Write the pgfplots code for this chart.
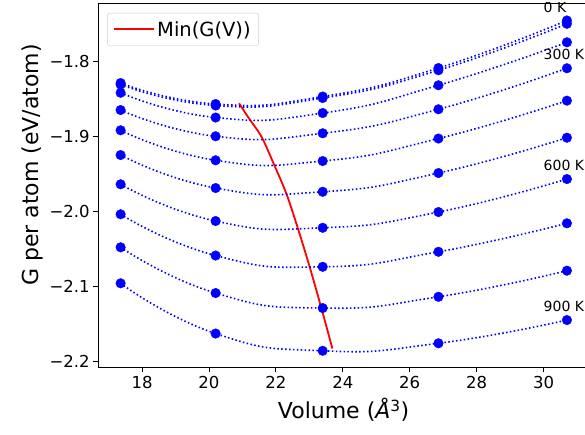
\documentclass[border=0pt]{standalone}
\usepackage{fontspec}
\setmainfont{DejaVu Sans}
\usepackage{pgfplots}
\pgfplotsset{compat=1.18}
\usepackage{pgfplotstable}

\pgfplotstableread{
V      t0      t100    t200    t300    t400    t500    t600    t700    t800    t900
17.36  -1.829  -1.831  -1.842  -1.865  -1.892  -1.925  -1.964  -2.004  -2.048  -2.096
20.20  -1.857  -1.859  -1.875  -1.900  -1.932  -1.969  -2.013  -2.059  -2.109  -2.163
23.40  -1.847  -1.849  -1.869  -1.896  -1.933  -1.974  -2.022  -2.074  -2.129  -2.186
26.86  -1.809  -1.812  -1.832  -1.864  -1.903  -1.949  -2.001  -2.054  -2.114  -2.176
30.70  -1.7456 -1.750  -1.7747 -1.8093 -1.8525 -1.9019 -1.957  -2.016  -2.0792 -2.145
}\gdata

\pgfplotstableread{
V      G
20.90  -1.856
21.19  -1.8757
21.57  -1.9005
21.91  -1.934
22.31  -1.976
22.66  -2.023
23.01  -2.074
23.36  -2.129
23.69  -2.183
}\mindata

\begin{document}
\begin{tikzpicture}
\begin{axis}[
  name=ax,
  at={(0,0)}, anchor=south west,
  scale only axis,
  width=490.8pt, height=364.3pt,
  xmin=16.69, xmax=31.36,
  ymin=-2.208, ymax=-1.7223,
  xtick={18,20,...,30},
  ytick={-2.2,-2.1,-2.0,-1.9,-1.8},
  yticklabels={−2.2,−2.1,−2.0,−1.9,−1.8},
  tick align=outside,
  major tick length=5pt,
  tick style={black, line width=0.8pt},
  axis line style={black, line width=0.8pt},
  xtick pos=bottom, ytick pos=left,
  /pgf/number format/assume math mode=true,
  ticklabel style={font=\fontsize{16.5}{18}\selectfont},
  xlabel={Volume ({\itshape Å}\textsuperscript{3})},
  ylabel={G per atom (eV/atom)},
  label style={font=\fontsize{22}{24}\selectfont},
  xlabel style={yshift=-3pt},
  ylabel style={at={(ticklabel cs:0.555)}},
  legend style={at={(0,1)}, anchor=north west, xshift=9pt, yshift=-10pt,
    draw=black!20, rounded corners=2pt, font=\fontsize{19.5}{21}\selectfont,
    inner xsep=6pt, inner ysep=6pt},
  legend image code/.code={\draw[red, line width=1.8pt] (0pt,0pt) -- (40pt,0pt);},
  legend cell align=left,
]
\addplot[red, line width=1.8pt, smooth] table[x=V, y=G] {\mindata};
\addlegendentry{Min(G(V))}
\pgfplotsinvokeforeach{t0,t100,t200,t300,t400,t500,t600,t700,t800,t900}{
  \addplot[blue, line width=1.6pt, dash pattern=on 1.5pt off 2.4pt, smooth, tension=0.9,
    mark=*, mark size=4.8pt, mark options={solid, fill=blue, draw=blue, line width=0.4pt},
    forget plot] table[x=V, y=#1] {\gdata};
}
\node[anchor=base west, inner sep=0pt, font=\fontsize{14}{16}\selectfont] at (axis cs:30.0,-1.7346) {0 K};
\node[anchor=base west, inner sep=0pt, font=\fontsize{14}{16}\selectfont] at (axis cs:30.0,-1.7983) {300 K};
\node[anchor=base west, inner sep=0pt, font=\fontsize{14}{16}\selectfont] at (axis cs:30.0,-1.946) {600 K};
\node[anchor=base west, inner sep=0pt, font=\fontsize{14}{16}\selectfont] at (axis cs:30.0,-2.134) {900 K};
\end{axis}
\pgfresetboundingbox
\useasboundingbox (-98.2pt,-67.7pt) rectangle (486.8pt,367.3pt);
\end{tikzpicture}
\end{document}
